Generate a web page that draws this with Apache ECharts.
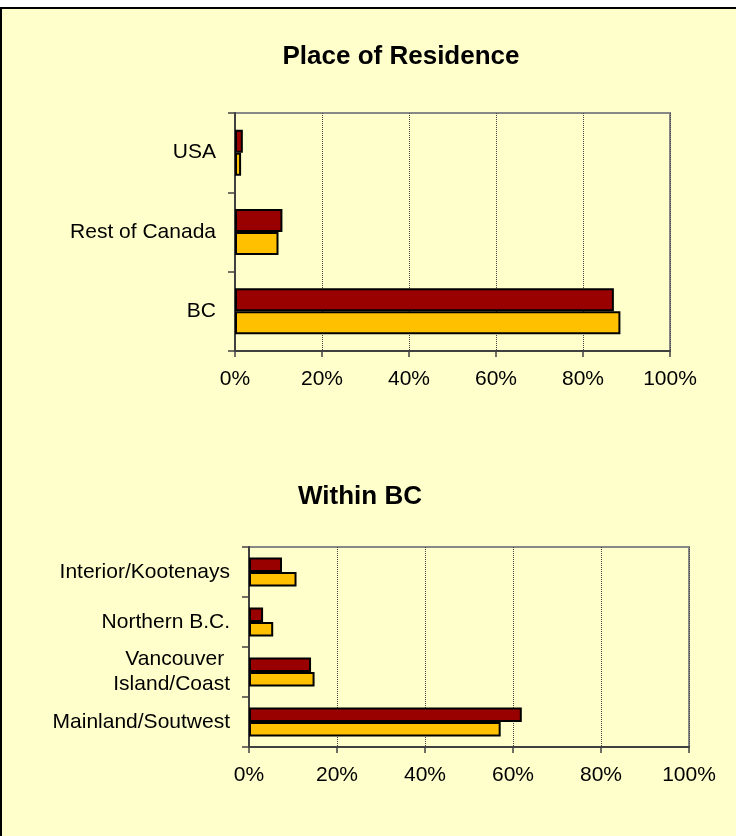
<!DOCTYPE html>
<html>
<head>
<meta charset="utf-8">
<script src="https://cdn.jsdelivr.net/npm/echarts@6/dist/echarts.min.js"></script>
<style>
  html, body { margin: 0; padding: 0; background: #fff; }
  #chart { width: 736px; height: 836px; }
</style>
</head>
<body>
<div id="chart"></div>
<script>
// place of residence (bottom to top)
const residenceCats = ['BC', 'Rest of Canada', 'USA']
const residenceRed = [87.1, 10.9, 1.8]
const residenceYellow = [88.6, 10.0, 1.4]

// within BC (bottom to top)
const regionCats = ['Mainland/Soutwest', 'Vancouver \nIsland/Coast', 'Northern B.C.', 'Interior/Kootenays']
const regionRed = [62.0, 14.1, 3.2, 7.5]
const regionYellow = [57.2, 14.9, 5.5, 10.8]

const pctTicks = [0, 20, 40, 60, 80, 100]

const FONT = 'Liberation Sans, Arial, sans-serif'
const RED = '#990000'
const YELLOW = '#FFC000'

function valueAxis(gridIndex) {
  return {
    type: 'value',
    gridIndex: gridIndex,
    min: pctTicks[0],
    max: pctTicks[pctTicks.length - 1],
    interval: pctTicks[1] - pctTicks[0],
    axisLine: { show: true, lineStyle: { color: '#404040', width: 2 } },
    axisTick: { show: true, length: 6, lineStyle: { color: '#404040', width: 1.5 } },
    axisLabel: { formatter: '{value}%', color: '#000', fontFamily: FONT, fontSize: 21, margin: 18 },
    splitLine: { show: true, lineStyle: { color: '#444', type: 'dotted', width: 1 } }
  }
}

function catAxis(gridIndex, cats) {
  return {
    type: 'category',
    gridIndex: gridIndex,
    data: cats,
    axisLine: { show: true, lineStyle: { color: '#404040', width: 2 } },
    axisTick: { show: true, length: 7, lineStyle: { color: '#404040', width: 1.5 } },
    axisLabel: { color: '#000', fontFamily: FONT, fontSize: 21, margin: 19, lineHeight: 25 },
    splitLine: { show: false }
  }
}

function barSeries(name, idx, values, color) {
  return {
    name: name,
    type: 'bar',
    xAxisIndex: idx,
    yAxisIndex: idx,
    data: values,
    barGap: '0%',
    barCategoryGap: '42%',
    itemStyle: { color: color, borderColor: '#000', borderWidth: 2 }
  }
}

const chart = echarts.init(document.getElementById('chart'))
chart.setOption({
  animation: false,
  backgroundColor: '#fff',
  graphic: [
    {
      type: 'rect',
      z: -10,
      shape: { x: 1, y: 8, width: 800, height: 900 },
      style: { fill: '#FFFFCC', stroke: '#000', lineWidth: 2 }
    }
  ],
  title: [
    {
      text: 'Place of Residence',
      left: 401, top: 44, padding: 0, textAlign: 'center',
      textStyle: { fontFamily: FONT, fontSize: 26, fontWeight: 'bold', color: '#000' }
    },
    {
      text: 'Within BC',
      left: 360, top: 484, padding: 0, textAlign: 'center',
      textStyle: { fontFamily: FONT, fontSize: 26, fontWeight: 'bold', color: '#000' }
    }
  ],
  grid: [
    { left: 235, right: 66, top: 113, bottom: 485, show: true, borderColor: '#888', borderWidth: 2, backgroundColor: 'transparent' },
    { left: 249, right: 47, top: 547, bottom: 89, show: true, borderColor: '#888', borderWidth: 2, backgroundColor: 'transparent' }
  ],
  xAxis: [valueAxis(0), valueAxis(1)],
  yAxis: [catAxis(0, residenceCats), catAxis(1, regionCats)],
  series: [
    barSeries('Group A', 0, residenceRed, RED),
    barSeries('Group B', 0, residenceYellow, YELLOW),
    barSeries('Group A', 1, regionRed, RED),
    barSeries('Group B', 1, regionYellow, YELLOW)
  ]
})
</script>
</body>
</html>
